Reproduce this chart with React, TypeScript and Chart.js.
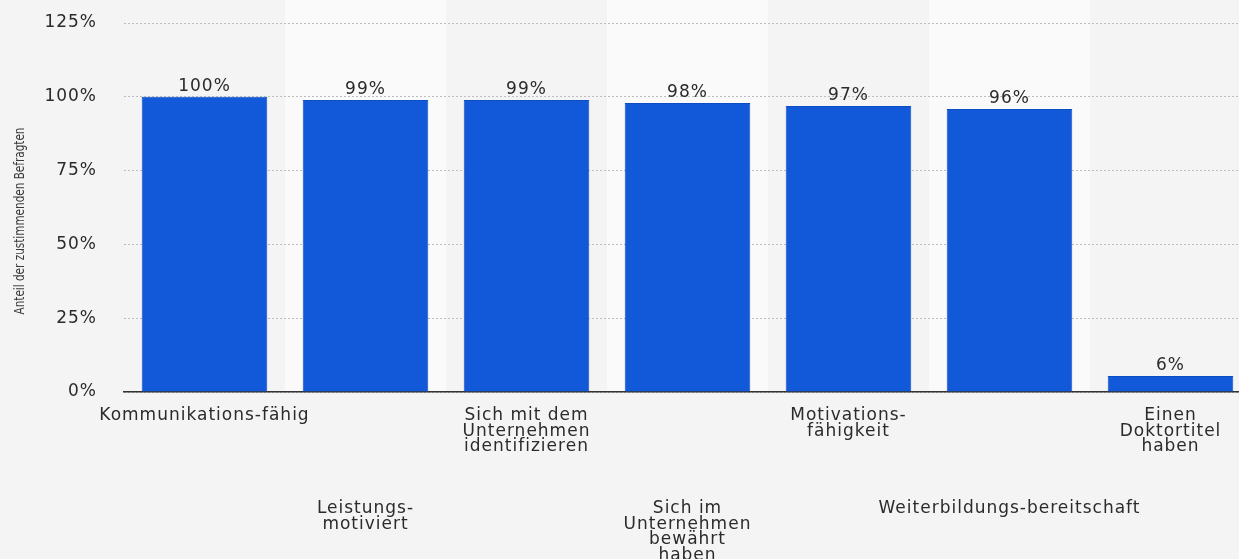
import React, { useEffect, useRef } from "react";
import { Chart, registerables } from "chart.js";

Chart.register(...registerables);

const categories: string[][] = [
  ["Kommunikations-fähig"],
  ["Leistungs-", "motiviert"],
  ["Sich mit dem", "Unternehmen", "identifizieren"],
  ["Sich im", "Unternehmen", "bewährt", "haben"],
  ["Motivations-", "fähigkeit"],
  ["Weiterbildungs-bereitschaft"],
  ["Einen", "Doktortitel", "haben"],
];
const values: number[] = [100, 98.9, 98.9, 97.9, 96.9, 95.9, 5.4];
const valueLabels: string[] = ["100%", "99%", "99%", "98%", "97%", "96%", "6%"];
const yTicks: number[] = [0, 25, 50, 75, 100, 125];
const yTitle = "Anteil der zustimmenden Befragten";

const FONT = "'DejaVu Sans', sans-serif";
const TEXT = "#2b2b2b";

export default function App() {
  const ref = useRef<HTMLCanvasElement>(null);
  useEffect(() => {
    document.body.style.margin = "0";
    document.body.style.overflow = "hidden";
    document.body.style.background = "#f4f4f4";
    const canvas = ref.current!;
    const staggered = categories.map((lines, i) =>
      i % 2 === 1 ? ["", "", "", "", "", "", ...lines] : lines
    );

    const bands = {
      id: "bands",
      beforeDraw(chart: any) {
        const { ctx, chartArea, scales } = chart;
        ctx.save();
        ctx.fillStyle = "#f4f4f4";
        ctx.fillRect(0, 0, chart.width, chart.height);
        const x = scales.x;
        const step = x.getPixelForValue(1) - x.getPixelForValue(0);
        ctx.fillStyle = "#fafafa";
        for (let i = 1; i < categories.length; i += 2) {
          const c = x.getPixelForValue(i);
          ctx.fillRect(c - step / 2, 0, step, chartArea.bottom);
        }
        ctx.restore();
        (ctx as any).letterSpacing = "1px";
      },
    };

    const labelsPlugin = {
      id: "valueLabels",
      afterDatasetsDraw(chart: any) {
        const { ctx } = chart;
        const meta = chart.getDatasetMeta(0);
        ctx.save();
        (ctx as any).letterSpacing = "1px";
        ctx.font = `17px ${FONT}`;
        ctx.fillStyle = TEXT;
        ctx.textAlign = "center";
        ctx.textBaseline = "bottom";
        meta.data.forEach((bar: any, i: number) => {
          ctx.fillText(valueLabels[i], bar.x, bar.y - 2);
        });
        ctx.restore();
      },
    };

    const titlePlugin = {
      id: "yTitle",
      afterDraw(chart: any) {
        const { ctx } = chart;
        ctx.save();
        (ctx as any).letterSpacing = "0px";
        ctx.font = `14px 'DejaVu Sans Condensed', 'Liberation Sans Narrow', sans-serif`;
        const w = ctx.measureText(yTitle).width;
        ctx.translate(20, 221);
        ctx.rotate(-Math.PI / 2);
        ctx.scale(187 / w, 1);
        ctx.fillStyle = "#3a3a3a";
        ctx.textAlign = "center";
        ctx.textBaseline = "middle";
        ctx.fillText(yTitle, 0, 0);
        ctx.restore();
        (ctx as any).letterSpacing = "0px";
      },
    };

    const chart = new Chart(canvas, {
      type: "bar",
      data: {
        labels: staggered as any,
        datasets: [
          {
            data: values,
            backgroundColor: "#1259d9",
            borderColor: "#0d4dc2",
            borderWidth: 1,
            barPercentage: 0.78,
            categoryPercentage: 1,
          },
        ],
      },
      options: {
        animation: false,
        responsive: false,
        maintainAspectRatio: false,
        layout: { padding: { top: 23, left: 0, right: 0, bottom: 0 } },
        plugins: {
          legend: { display: false },
          tooltip: { enabled: false },
        },
        scales: {
          x: {
            grid: { display: false },
            border: { display: true, color: "#333333", width: 1.5 },
            ticks: {
              autoSkip: false,
              maxRotation: 0,
              minRotation: 0,
              padding: 8,
              color: TEXT,
              font: { family: FONT, size: 17, lineHeight: "15.5px" as any },
            },
            afterFit(scale: any) {
              scale.height = 167;
              scale.paddingLeft = 0;
              scale.paddingRight = 0;
            },
          },
          y: {
            min: 0,
            max: 125,
            afterBuildTicks(scale: any) {
              scale.ticks = yTicks.map((v) => ({ value: v }));
            },
            grid: {
              color: "#bdbdbd",
              drawTicks: false,
              lineWidth: 1,
            },
            border: { display: false, dash: [2, 2] },
            ticks: {
              padding: 27,
              color: TEXT,
              font: { family: FONT, size: 17 },
              callback: (v: any) => `${v}%`,
            },
            afterFit(scale: any) {
              scale.width = 124;
              scale.paddingTop = 0;
              scale.paddingBottom = 0;
            },
          },
        },
      },
      plugins: [bands, labelsPlugin, titlePlugin],
    });
    return () => chart.destroy();
  }, []);

  return (
    <div style={{ position: "fixed", left: 0, top: 0, width: 1251, height: 559 }}>
      <canvas ref={ref} width={1251} height={559} style={{ width: 1251, height: 559 }} />
    </div>
  );
}
